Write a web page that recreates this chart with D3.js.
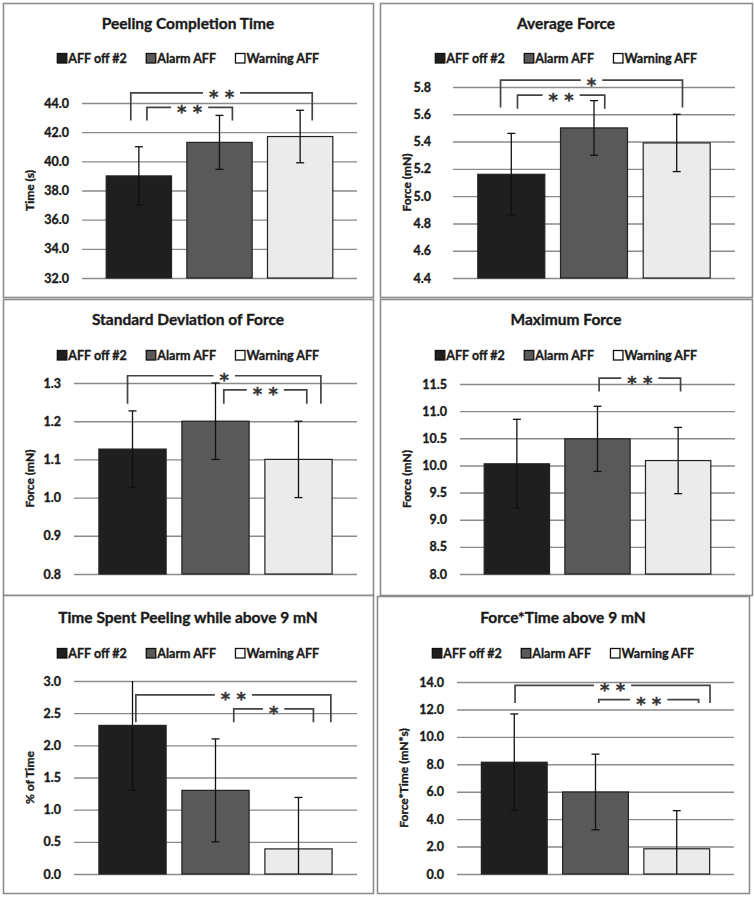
<!DOCTYPE html>
<html>
<head>
<meta charset="utf-8">
<script src="https://cdn.jsdelivr.net/npm/d3@7"></script>
<style>
  body { margin: 0; background: #fff; }
  svg text { font-family: Lato, "Open Sans", sans-serif; font-weight: 700; fill: #1a1a1a; stroke: #1a1a1a; stroke-width: 0.35px; }
</style>
</head>
<body>
<svg id="chart" width="754" height="897"></svg>
<script>
// series shared by all six charts
var seriesNames = ["AFF off #2", "Alarm AFF", "Warning AFF"];

var panelTitles = ["Peeling Completion Time", "Average Force", "Standard Deviation of Force",
                   "Maximum Force", "Time Spent Peeling while above 9 mN", "Force*Time above 9 mN"];
var axisTitles = ["Time (s)", "Force (mN)", "Force (mN)", "Force (mN)", "% of Time", "Force*Time (mN*s)"];

var peelMean = [39.0, 41.3, 41.7];
var peelErr = [2.0, 1.85, 1.8];
var peelTicks = [32, 34, 36, 38, 40, 42, 44];

var avgMean = [5.16, 5.50, 5.39];
var avgErr = [0.30, 0.20, 0.21];
var avgTicks = [4.4, 4.6, 4.8, 5.0, 5.2, 5.4, 5.6, 5.8];

var sdMean = [1.127, 1.20, 1.10];
var sdErr = [0.10, 0.10, 0.10];
var sdTicks = [0.8, 0.9, 1.0, 1.1, 1.2, 1.3];

var maxMean = [10.03, 10.49, 10.09];
var maxErr = [0.82, 0.60, 0.61];
var maxTicks = [8.0, 8.5, 9.0, 9.5, 10.0, 10.5, 11.0, 11.5];

var pctMean = [2.31, 1.30, 0.39];
var pctErr = [1.01, 0.80, 0.80];
var pctTicks = [0, 0.5, 1.0, 1.5, 2.0, 2.5, 3.0];

var ftMean = [8.15, 5.98, 1.84];
var ftErr = [3.52, 2.76, 2.78];
var ftTicks = [0, 2, 4, 6, 8, 10, 12, 14];

// significance brackets: ends in bar-index units, heights in axis units
var peelSig = [{from: -0.1, to: 2.15, y: 44.7, foot: 42.8, label: "* *"},
               {from: 0.1, to: 1.16, y: 43.7, foot: 42.8, label: "* *"}];
var avgSig = [{from: -0.13, to: 2.07, y: 5.85, foot: 5.65, label: "*"},
              {from: 0.075, to: 1.13, y: 5.74, foot: 5.64, label: "* *"}];
var sdSig = [{from: -0.06, to: 2.27, y: 1.319, foot: 1.246, label: "*"},
             {from: 1.10, to: 2.10, y: 1.282, foot: 1.246, label: "* *"}];
var maxSig = [{from: 1.02, to: 2.03, y: 11.61, foot: 11.36, label: "* *"}];
var pctSig = [{from: 0.04, to: 2.39, y: 2.784, foot: 2.36, label: "* *"},
              {from: 1.22, to: 2.18, y: 2.567, foot: 2.36, label: "*"}];
var ftSig = [{from: 0.01, to: 2.41, y: 13.76, foot: 12.47, label: "* *"},
             {from: 1.04, to: 2.27, y: 12.72, foot: 12.47, label: "* *"}];

var fills = ["#1f1f1f", "#595959", "#ebebeb"];
var legendFills = ["#1f1f1f", "#595959", "#ffffff"];

// panel boxes and plot areas (relative to box)
var layout = [
  {x: 3,   y: 3,   w: 370, h: 294, l: 79, r: 354, t: 100, b: 275, tickPad: 13, titleY: 21, legY: 55},
  {x: 380, y: 3,   w: 372, h: 294, l: 73, r: 355, t: 84,  b: 275, tickPad: 22, titleY: 21, legY: 55},
  {x: 3,   y: 299, w: 370, h: 296, l: 71, r: 354, t: 84,  b: 275, tickPad: 13, titleY: 21, legY: 56},
  {x: 380, y: 299, w: 372, h: 296, l: 80, r: 355, t: 85,  b: 275, tickPad: 13, titleY: 21, legY: 56},
  {x: 3,   y: 595, w: 370, h: 298, l: 71, r: 354, t: 86,  b: 279, tickPad: 13, titleY: 23, legY: 58},
  {x: 377, y: 596, w: 372, h: 297, l: 80, r: 357, t: 86,  b: 278, tickPad: 13, titleY: 22, legY: 57}
];

var panels = [
  {mean: peelMean, err: peelErr, ticks: peelTicks, sig: peelSig},
  {mean: avgMean, err: avgErr, ticks: avgTicks, sig: avgSig},
  {mean: sdMean, err: sdErr, ticks: sdTicks, sig: sdSig},
  {mean: maxMean, err: maxErr, ticks: maxTicks, sig: maxSig},
  {mean: pctMean, err: pctErr, ticks: pctTicks, sig: pctSig},
  {mean: ftMean, err: ftErr, ticks: ftTicks, sig: ftSig}
];

var svg = d3.select("#chart");

panels.forEach(function(p, k){
  var L = layout[k];
  var g = svg.append("g").attr("transform", "translate(" + L.x + "," + L.y + ")");

  g.append("rect")
    .attr("x", 0.5).attr("y", 0.5)
    .attr("width", L.w).attr("height", L.h)
    .attr("fill", "#fff")
    .attr("stroke", "#8c8c8c")
    .attr("stroke-width", 1.6);

  var lo = p.ticks[0], hi = p.ticks[p.ticks.length - 1];
  var y = d3.scaleLinear().domain([lo, hi]).range([L.b, L.t]);
  var x = d3.scaleBand().domain(d3.range(seriesNames.length))
    .range([L.l, L.r]).paddingInner(0.19).paddingOuter(0.3);
  var bw = x.bandwidth();
  var xi = d3.scaleLinear().domain([0, 2]).range([x(0) + bw / 2, x(2) + bw / 2]);

  // gridlines + tick labels
  var axis = g.append("g")
    .attr("transform", "translate(" + L.l + ",0)")
    .call(d3.axisLeft(y).tickValues(p.ticks)
      .tickSize(-(L.r - L.l))
      .tickPadding(L.tickPad)
      .tickFormat(d3.format(".1f")));
  axis.select(".domain").remove();
  axis.selectAll("line").attr("stroke", "#8a8a8a").attr("stroke-width", 1.4);
  axis.selectAll("text").attr("font-size", 12.5).attr("fill", "#1a1a1a")
    .attr("font-family", "Lato, sans-serif").attr("font-weight", 700);

  // bars
  g.selectAll(".bar").data(p.mean).enter().append("rect")
    .attr("class", "bar")
    .attr("x", function(d, i){ return x(i); })
    .attr("y", function(d){ return y(d); })
    .attr("width", bw)
    .attr("height", function(d){ return y(lo) - y(d); })
    .attr("fill", function(d, i){ return fills[i]; })
    .attr("stroke", "#222")
    .attr("stroke-width", 1.2);

  // error bars, clipped to the axis range
  var eb = g.selectAll(".err").data(p.mean).enter().append("g").attr("class", "err");
  eb.each(function(d, i){
    var cx = x(i) + bw / 2;
    var top = d + p.err[i], bot = d - p.err[i];
    var e = d3.select(this);
    e.append("line")
      .attr("x1", cx).attr("x2", cx)
      .attr("y1", y(Math.min(top, hi))).attr("y2", y(Math.max(bot, lo)))
      .attr("stroke", "#111").attr("stroke-width", 1.3);
    [top, bot].forEach(function(v){
      if (v > hi || v < lo) return;
      e.append("line")
        .attr("x1", cx - 4).attr("x2", cx + 4)
        .attr("y1", y(v)).attr("y2", y(v))
        .attr("stroke", "#111").attr("stroke-width", 1.3);
    });
  });

  // significance brackets
  p.sig.forEach(function(s){
    var x0 = xi(s.from), x1 = xi(s.to), yy = y(s.y), yf = y(s.foot);
    var mid = (x0 + x1) / 2;
    var t = g.append("text")
      .attr("x", mid).attr("y", yy + 10.5)
      .attr("text-anchor", "middle")
      .style("font-family", "'DejaVu Sans', sans-serif")
      .style("font-size", "18px")
      .style("font-weight", "700")
      .style("fill", "#333")
      .style("stroke", "#333")
      .text(s.label);
    var half = t.node().getComputedTextLength() / 2 + 6;
    g.append("path")
      .attr("d", "M" + x0 + "," + yf + "V" + yy + "H" + (mid - half) +
                 "M" + (mid + half) + "," + yy + "H" + x1 + "V" + yf)
      .attr("fill", "none")
      .attr("stroke", "#444")
      .attr("stroke-width", 1.7);
  });

  // title
  g.append("text")
    .attr("x", L.w / 2).attr("y", L.titleY + 5)
    .attr("text-anchor", "middle")
    .style("font-size", "15.5px")
    .text(panelTitles[k]);

  // y axis title
  g.append("text")
    .attr("transform", "translate(" + 27 + "," + ((L.t + L.b) / 2) + ") rotate(-90)")
    .attr("text-anchor", "middle")
    .attr("dy", "0.35em")
    .style("font-size", "12px")
    .text(axisTitles[k]);

  // legend, centred in the box
  var leg = g.append("g");
  var cursor = 0;
  seriesNames.forEach(function(name, i){
    var item = leg.append("g").attr("transform", "translate(" + cursor + ",0)");
    item.append("rect")
      .attr("x", 0.5).attr("y", -4.5)
      .attr("width", 9.5).attr("height", 9.5)
      .attr("fill", legendFills[i])
      .attr("stroke", "#111").attr("stroke-width", 1.3);
    var tx = item.append("text")
      .attr("x", 11.5).attr("y", 4.5)
      .style("font-size", "12.5px")
      .text(name);
    cursor += 11.5 + tx.node().getComputedTextLength() + 19;
  });
  var legW = cursor - 19;
  leg.attr("transform", "translate(" + (L.w / 2 - legW / 2) + "," + L.legY + ")");
});
</script>
</body>
</html>
